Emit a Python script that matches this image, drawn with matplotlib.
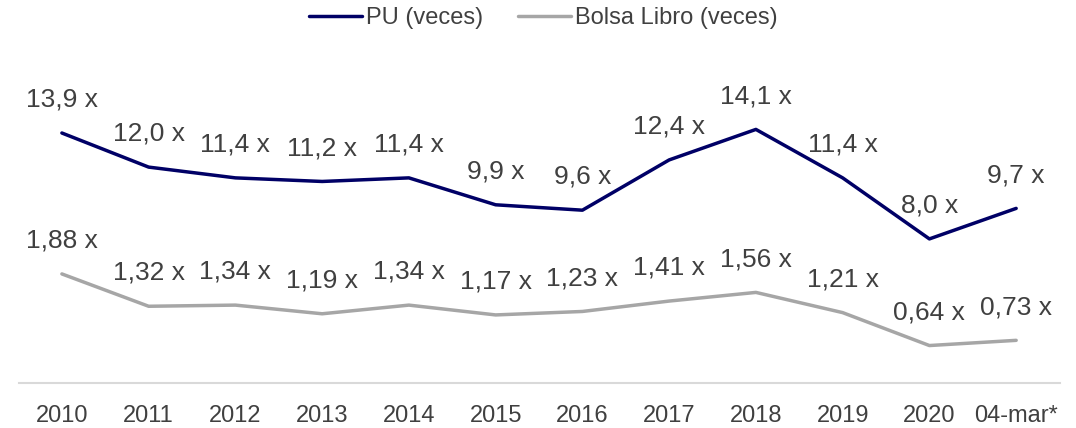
import matplotlib
matplotlib.use("Agg")
import matplotlib.pyplot as plt

categories = ["2010", "2011", "2012", "2013", "2014", "2015", "2016", "2017", "2018", "2019", "2020", "04-mar*"]
pu_values = [13.9, 12.0, 11.4, 11.2, 11.4, 9.9, 9.6, 12.4, 14.1, 11.4, 8.0, 9.7]
bl_values = [1.88, 1.32, 1.34, 1.19, 1.34, 1.17, 1.23, 1.41, 1.56, 1.21, 0.64, 0.73]
pu_labels = ["13,9 x", "12,0 x", "11,4 x", "11,2 x", "11,4 x", "9,9 x", "9,6 x", "12,4 x", "14,1 x", "11,4 x", "8,0 x", "9,7 x"]
bl_labels = ["1,88 x", "1,32 x", "1,34 x", "1,19 x", "1,34 x", "1,17 x", "1,23 x", "1,41 x", "1,56 x", "1,21 x", "0,64 x", "0,73 x"]

plt.rcParams['font.family'] = ['Liberation Sans', 'DejaVu Sans']

NAVY = "#000066"
GREY = "#A6A6A6"
TXT = "#404040"

fig = plt.figure(figsize=(10.76, 4.28), dpi=100)
ax = fig.add_axes([0.0172, 0.1063, 0.9675, 0.8002])
ax2 = ax.twinx()

x = list(range(len(categories)))
l1, = ax.plot(x, pu_values, color=NAVY, lw=2.5, solid_capstyle='round', label="PU (veces)")
l2, = ax2.plot(x, bl_values, color=GREY, lw=2.5, solid_capstyle='round', label="Bolsa Libro (veces)")

ax.set_ylim(0, 19.08)
ax2.set_ylim(0, 5.93)
ax.set_xlim(-0.5, len(categories) - 0.5)

for xi, v, s in zip(x, pu_values, pu_labels):
    ax.annotate(s, (xi, v), xytext=(0, 24), textcoords='offset points',
                ha='center', va='center', fontsize=19, color=TXT)
for xi, v, s in zip(x, bl_values, bl_labels):
    ax2.annotate(s, (xi, v), xytext=(0, 24), textcoords='offset points',
                 ha='center', va='center', fontsize=19, color=TXT)

for a in (ax, ax2):
    for sp in ['top', 'right', 'left']:
        a.spines[sp].set_visible(False)
    a.set_yticks([])
ax2.spines['bottom'].set_visible(False)
ax.spines['bottom'].set_color('#D9D9D9')
ax.spines['bottom'].set_linewidth(1.5)
ax.set_xticks(x)
ax.set_xticklabels(categories, fontsize=17, color=TXT)
ax.tick_params(axis='x', length=0, pad=16)

fig.legend(handles=[l1, l2], loc='center', bbox_to_anchor=(0.505, 0.958), ncol=2,
           frameon=False, fontsize=17, handlelength=2.25, handletextpad=0.15,
           columnspacing=1.5, labelcolor=TXT)

fig.savefig("out.png", dpi=100)
